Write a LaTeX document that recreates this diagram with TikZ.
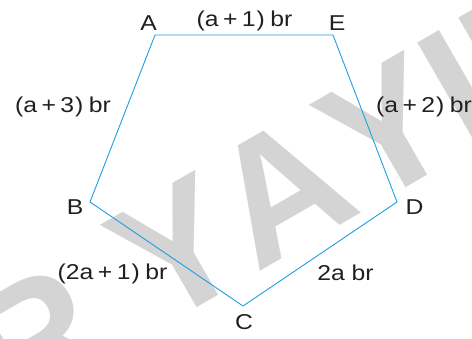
\documentclass[tikz,border=0pt]{standalone}
\usepackage{fontspec}
\setmainfont{Liberation Sans}
\newfontfamily\labfont[FakeStretch=1.15]{Liberation Sans}
\definecolor{edgeblue}{RGB}{27,161,226}
\definecolor{wmgray}{RGB}{212,212,212}
\definecolor{ink}{RGB}{35,31,32}
\newcommand{\plusgap}{\hspace{4.5pt}}
\newcommand{\brgap}{\hspace{5.5pt}}
\begin{document}
\begin{tikzpicture}[x=1pt,y=-1pt,
  edge/.style={draw=edgeblue,line width=0.9pt,line join=miter},
  vlabel/.style={text=ink,font=\labfont\fontsize{21.5}{21.5}\selectfont,inner sep=0pt},
  slabel/.style={text=ink,font=\labfont\fontsize{21.5}{21.5}\selectfont,inner sep=0pt},
  wm/.style={text=wmgray,font=\fontsize{174}{174}\selectfont\bfseries,inner sep=0pt,rotate=30,anchor=base}]
\useasboundingbox (0,0) rectangle (472,339);
\clip (0,0) rectangle (472,339);
\fill[white] (0,0) rectangle (472,339);
% watermark letters
\node[wm] (w1) at (65,393) {R};
\node[wm] (w2) at (207.5,301.7) {Y};
\node[wm] (w3) at (311.4,241.6) {A};
\node[wm] (w4) at (417,181) {Y};
\node[wm] (w5) at (488,140) {I};
\node[wm] (w6) at (563,96) {N};
% pentagon
\coordinate (A) at (155,35);
\coordinate (E) at (333,35);
\coordinate (D) at (397,202);
\coordinate (C) at (243,306);
\coordinate (B) at (90,202);
\draw[edge] (A) -- (E) -- (D) -- (C) -- (B) -- cycle;
% vertex labels
\node[vlabel] (lA) at (148.5,23.5) {A};
\node[vlabel] (lE) at (337,23.5) {E};
\node[vlabel] (lD) at (414.5,207.5) {D};
\node[vlabel] (lC) at (244,322.5) {C};
\node[vlabel] (lB) at (75,207.5) {B};
% side labels
\node[slabel] (sAE) at (244.5,21) {(a\plusgap+\plusgap1\hspace{1pt})\brgap br};
\node[slabel] (sAB) at (63,106.5) {(a\plusgap+\plusgap3\hspace{1pt})\brgap br};
\node[slabel] (sED) at (424,107) {(a\plusgap+\plusgap2\hspace{1pt})\brgap br};
\node[slabel] (sBC) at (112.5,273.5) {(2a\plusgap+\plusgap1\hspace{1pt})\brgap br};
\node[slabel] (sCD) at (345.5,273) {2a br};
\end{tikzpicture}
\end{document}
